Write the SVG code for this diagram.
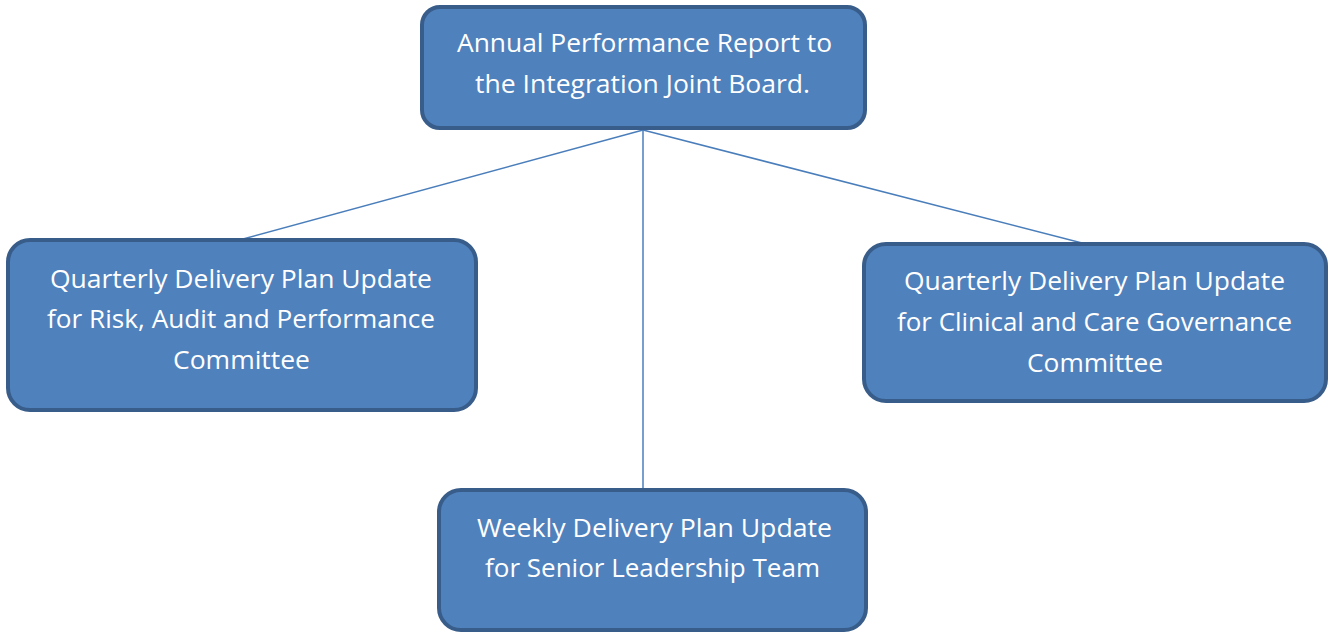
<svg xmlns="http://www.w3.org/2000/svg" width="1331" height="632" viewBox="0 0 1331 632">
<style>
.box{fill:#4f81bd;stroke:#385d8a;stroke-width:4}
.lbl{font-family:"Open Sans","Noto Sans","Liberation Sans",sans-serif;font-size:26px;fill:#ffffff;text-anchor:middle}
.conn{stroke:#4a7ebb;stroke-width:1.5;fill:none}
</style>
<rect width="1331" height="632" fill="#ffffff"/>
<g id="connectors">
<line class="conn" x1="643" y1="130" x2="243" y2="239"/>
<line class="conn" x1="643" y1="130" x2="643" y2="489"/>
<line class="conn" x1="643" y1="130" x2="1082" y2="243"/>
</g>
<g id="node-annual">
<rect class="box" x="422" y="7" width="443" height="121" rx="18"/>
<text class="lbl" x="644.5" y="52" textLength="375" lengthAdjust="spacingAndGlyphs">Annual Performance Report to</text>
<text class="lbl" x="642.5" y="93" textLength="335" lengthAdjust="spacingAndGlyphs">the Integration Joint Board.</text>
</g>
<g id="node-risk">
<rect class="box" x="8" y="240" width="468" height="170" rx="22"/>
<text class="lbl" x="241" y="288" textLength="382" lengthAdjust="spacingAndGlyphs">Quarterly Delivery Plan Update</text>
<text class="lbl" x="241" y="328" textLength="388" lengthAdjust="spacingAndGlyphs">for Risk, Audit and Performance</text>
<text class="lbl" x="241.5" y="369" textLength="137" lengthAdjust="spacingAndGlyphs">Committee</text>
</g>
<g id="node-clinical">
<rect class="box" x="864" y="244" width="462" height="157" rx="22"/>
<text class="lbl" x="1094.5" y="290" textLength="381" lengthAdjust="spacingAndGlyphs">Quarterly Delivery Plan Update</text>
<text class="lbl" x="1094.5" y="331" textLength="395" lengthAdjust="spacingAndGlyphs">for Clinical and Care Governance</text>
<text class="lbl" x="1095" y="372" textLength="136" lengthAdjust="spacingAndGlyphs">Committee</text>
</g>
<g id="node-weekly">
<rect class="box" x="439" y="490" width="427" height="140" rx="22"/>
<text class="lbl" x="654.5" y="537" textLength="355" lengthAdjust="spacingAndGlyphs">Weekly Delivery Plan Update</text>
<text class="lbl" x="652.5" y="577" textLength="335" lengthAdjust="spacingAndGlyphs">for Senior Leadership Team</text>
</g>
</svg>
